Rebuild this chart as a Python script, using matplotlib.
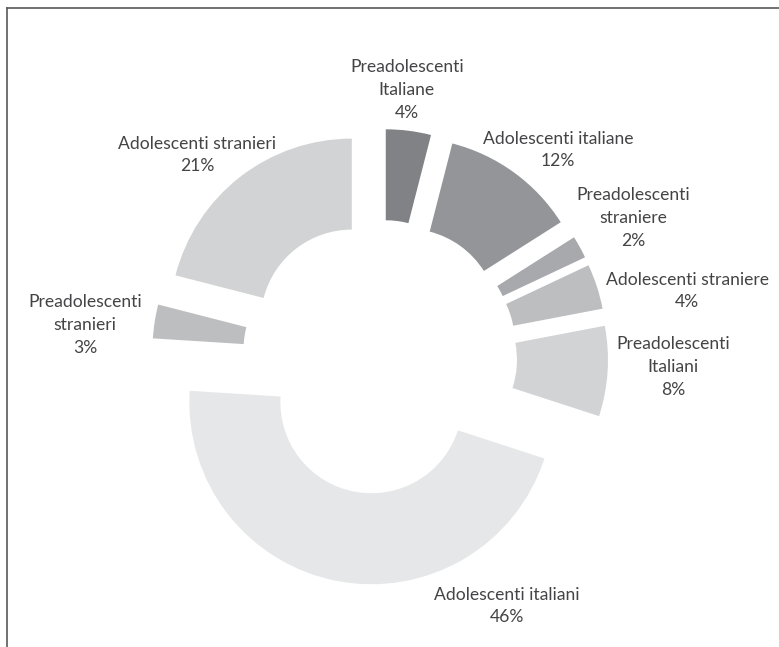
import matplotlib
matplotlib.use("Agg")
import matplotlib.pyplot as plt
from matplotlib.lines import Line2D

# Distribuzione del campione per fascia d'età, genere e cittadinanza
labels = [
    "Preadolescenti\nItaliane",
    "Adolescenti italiane",
    "Preadolescenti\nstraniere",
    "Adolescenti straniere",
    "Preadolescenti\nItaliani",
    "Adolescenti italiani",
    "Preadolescenti\nstranieri",
    "Adolescenti stranieri",
]
percent = [4, 12, 2, 4, 8, 46, 3, 21]
colors = ["#808285", "#939598", "#a7a9ac", "#bcbec0",
          "#d1d3d4", "#e6e7e8", "#bcbec0", "#d1d3d4"]

# where each label block sits (data units, radius = 1)
label_pos = [(0.148, 1.467), (0.978, 1.137), (1.390, 0.764), (1.687, 0.363),
             (1.610, -0.055), (0.698, -1.368), (-1.621, 0.176), (-1.005, 1.110)]

W, H = 779, 647
R_PX = 182          # outer radius in pixels
CX, CY = 380, 357   # donut centre (pixels from top-left)

fig = plt.figure(figsize=(W / 100, H / 100), dpi=100)
ax = fig.add_axes([0, 0, 1, 1])

ax.pie(percent, colors=colors, startangle=90, counterclock=False,
       explode=[0.253] * len(percent), radius=1.0,
       wedgeprops=dict(width=0.5, edgecolor="none", linewidth=0))

for lab, p, (x, y) in zip(labels, percent, label_pos):
    ax.text(x, y, f"{lab}\n{p}%", ha="center", va="center",
            fontsize=12.6, color="#444446", linespacing=1.52,
            family=["Lato", "DejaVu Sans"], fontweight="normal")

ax.set_xlim(-CX / R_PX, (W - CX) / R_PX)
ax.set_ylim(-(H - CY) / R_PX, CY / R_PX)
ax.set_aspect("equal")
ax.axis("off")

# thin frame: top and left edges only
fig.add_artist(Line2D([6.5 / W, 1], [1 - 8 / H, 1 - 8 / H],
                      transform=fig.transFigure, color="#58595b", lw=1.2))
fig.add_artist(Line2D([6.5 / W, 6.5 / W], [0, 1 - 8 / H],
                      transform=fig.transFigure, color="#58595b", lw=1.2))

fig.savefig("out.png", dpi=100)
